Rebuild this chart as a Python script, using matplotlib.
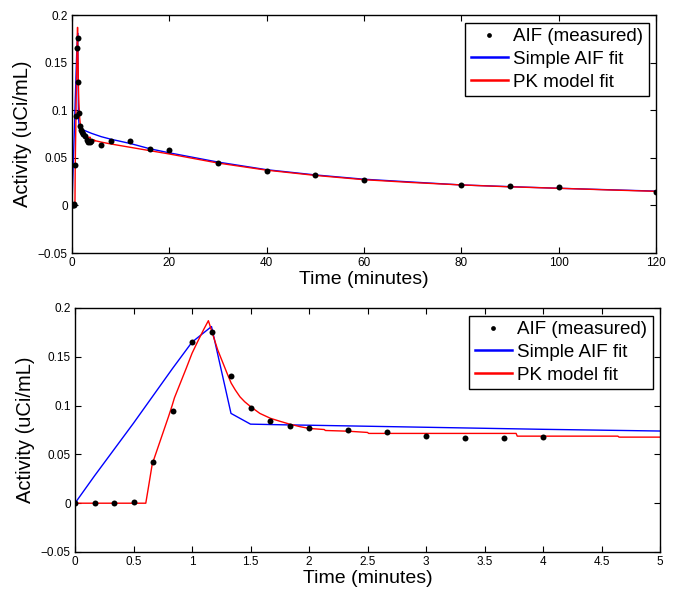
import matplotlib
matplotlib.use("Agg")
import matplotlib.pyplot as plt

plt.rcParams['font.family'] = ['Liberation Sans', 'DejaVu Sans']
plt.rcParams['axes.unicode_minus'] = True

# Measured AIF samples (minutes, uCi/mL)
t_meas = [0, 1/6, 1/3, 0.5, 2/3, 5/6, 1.0, 7/6, 4/3, 1.5, 5/3, 11/6, 2.0, 7/3, 8/3,
          3.0, 10/3, 11/3, 4.0, 6, 8, 12, 16, 20, 30, 40, 50, 60, 80, 90, 100, 120]
aif_meas = [0.0, 0.0, 0.0, 0.001, 0.042, 0.094, 0.165, 0.1755, 0.130, 0.0975, 0.0838,
            0.0787, 0.0766, 0.0753, 0.0729, 0.069, 0.0667, 0.0667, 0.068, 0.0632,
            0.0677, 0.0677, 0.059, 0.058, 0.0445, 0.0365, 0.032, 0.0268, 0.0219,
            0.0205, 0.0195, 0.0146]

# Simple AIF fit, evaluated at the sample times
aif_fit = [0.0, 0.028, 0.055, 0.082, 0.110, 0.138, 0.165, 0.181, 0.092, 0.081, 0.0806,
           0.0802, 0.0799, 0.0792, 0.0785, 0.0778, 0.0771, 0.0764, 0.0757, 0.0722,
           0.0695, 0.0650, 0.0595, 0.0552, 0.0455, 0.0375, 0.0320, 0.0275, 0.0215,
           0.0197, 0.0180, 0.0150]

# PK model fit (finely sampled)
t_pk = [0, 0.605, 0.63, 0.66, 0.70, 0.75, 0.80, 0.83, 0.85, 0.90, 0.95, 1.00, 1.05,
        1.10, 1.14, 1.18, 1.22, 1.26, 1.30, 1.335, 1.37, 1.41, 1.45, 1.50, 1.58, 1.67,
        1.75, 1.835, 1.92, 2.0, 2.13, 2.14, 2.33, 2.50, 2.51, 3.77, 3.78, 4.64, 4.65,
        5.0, 6, 8, 12, 16, 20, 30, 40, 50, 60, 70, 80, 90, 100, 110, 120]
pk_fit = [0.0, 0.0, 0.018, 0.040, 0.054, 0.0715, 0.089, 0.100, 0.108, 0.123, 0.138,
          0.1535, 0.166, 0.178, 0.187, 0.172, 0.157, 0.145, 0.133, 0.123, 0.116, 0.109,
          0.104, 0.099, 0.092, 0.087, 0.084, 0.081, 0.0785, 0.0766, 0.0755, 0.0745,
          0.0738, 0.0725, 0.0715, 0.0715, 0.0687, 0.0687, 0.0677, 0.0677, 0.0665,
          0.0645, 0.061, 0.0575, 0.054, 0.0445, 0.037, 0.0315, 0.027, 0.024, 0.0215,
          0.0195, 0.018, 0.0163, 0.0148]

y_ticks = [-0.05, 0, 0.05, 0.1, 0.15, 0.2]
y_ticklabels = ['\u22120.05', '0', '0.05', '0.1', '0.15', '0.2']
top_xticks = [0, 20, 40, 60, 80, 100, 120]
bot_xticks = [0, 0.5, 1, 1.5, 2, 2.5, 3, 3.5, 4, 4.5, 5]
bot_xticklabels = ['0', '0.5', '1', '1.5', '2', '2.5', '3', '3.5', '4', '4.5', '5']

W, H = 679, 592
fig = plt.figure(figsize=(W / 100, H / 100), dpi=100)

ax1 = fig.add_axes([72 / W, 1 - 253 / H, (656 - 72) / W, (253 - 15) / H])
ax2 = fig.add_axes([75 / W, 1 - 552 / H, (660 - 75) / W, (552 - 308) / H])


def style(ax, xlim, xticks, xticklabels):
    ax.plot(t_meas, aif_meas, 'o', color='black', ms=4.3, mew=0,
            label='AIF (measured)', zorder=3)
    ax.plot(t_meas, aif_fit, color='#0000ff', lw=1.0, label='Simple AIF fit', zorder=2)
    ax.plot(t_pk, pk_fit, color='#ff0000', lw=1.0, label='PK model fit', zorder=2)
    ax.set_xlim(*xlim)
    ax.set_ylim(-0.05, 0.2)
    ax.set_xticks(xticks)
    ax.set_xticklabels(xticklabels)
    ax.set_yticks(y_ticks)
    ax.set_yticklabels(y_ticklabels)
    ax.tick_params(direction='in', length=4, width=0.8, top=True, right=True,
                   labelsize=8.5, pad=3)
    for s in ax.spines.values():
        s.set_linewidth(1.0)
        s.set_color('black')
    ax.set_xlabel('Time (minutes)', fontsize=14, labelpad=1)
    ax.set_ylabel('Activity (uCi/mL)', fontsize=14.5, labelpad=4)
    leg = ax.legend(loc='upper right', fontsize=13.5, frameon=True, fancybox=False,
                    edgecolor='black', framealpha=1, borderpad=0.3, labelspacing=0.3,
                    handlelength=2.0, handletextpad=0.25, borderaxespad=0.4,
                    markerscale=0.8)
    leg.get_frame().set_linewidth(1.0)
    for h in leg.get_lines()[1:]:
        h.set_linewidth(1.8)


style(ax1, (0, 120), top_xticks, [str(v) for v in top_xticks])
style(ax2, (0, 5), bot_xticks, bot_xticklabels)

fig.savefig('out.png', dpi=100)
